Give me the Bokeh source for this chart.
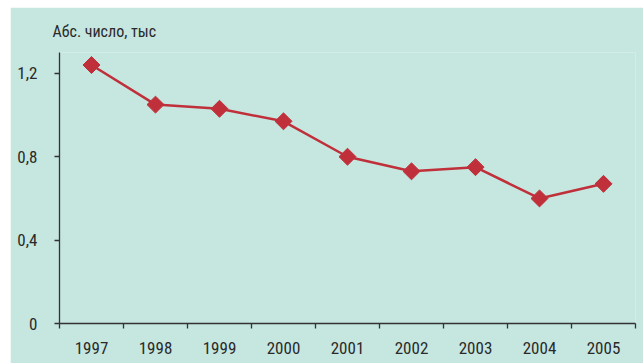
from bokeh.plotting import figure
from bokeh.models import FixedTicker, Range1d
from bokeh.embed import file_html
from bokeh.resources import INLINE
import numpy as np

# Absolute number, thousands, by year
years = ["1997", "1998", "1999", "2000", "2001", "2002", "2003", "2004", "2005"]
values = [1.24, 1.05, 1.03, 0.97, 0.80, 0.73, 0.75, 0.60, 0.67]
y_ticks = [0, 0.4, 0.8, 1.2]
y_tick_labels = ["0", "0,4", "0,8", "1,2"]
unit_caption = "Абс. число, тыс"

BG = "#C6E6E0"
RED = "#C0303A"
AXIS = "#333333"
TEXT = "#2a2a2a"
FONT = "'Roboto Condensed', 'DejaVu Sans Condensed', sans-serif"

x = np.arange(len(years)) + 0.5

p = figure(
    width=633, height=356,
    x_range=Range1d(0, len(years)), y_range=Range1d(0, 1.3),
    output_backend="svg", toolbar_location=None,
    background_fill_color=BG, border_fill_color=BG,
    min_border_left=49, min_border_right=8, min_border_top=45, min_border_bottom=40,
)
p.margin = (7, 0, 0, 10)
p.outline_line_color = None
p.grid.visible = False

# unit caption above the value axis
p.title.text = unit_caption
p.title.text_font = FONT
p.title.text_font_size = "16px"
p.title.text_font_style = "normal"
p.title.text_color = TEXT
p.title.align = "left"
p.title.offset = -7
p.title.standoff = 24

# x axis: labels centred in each year slot, ticks on slot boundaries
xa = p.xaxis[0]
xa.ticker = FixedTicker(ticks=list(x), minor_ticks=list(range(len(years) + 1)))
xa.major_label_overrides = {float(v): y for v, y in zip(x, years)}
xa.major_tick_line_color = None
xa.major_tick_out = 0
xa.major_tick_in = 0
xa.minor_tick_line_color = AXIS
xa.minor_tick_line_width = 1.3
xa.minor_tick_out = 5
xa.minor_tick_in = 0
xa.axis_line_color = AXIS
xa.axis_line_width = 1.3
xa.major_label_standoff = 13
xa.major_label_text_font = FONT
xa.major_label_text_font_size = "17px"
xa.major_label_text_color = TEXT

ya = p.yaxis[0]
ya.ticker = FixedTicker(ticks=y_ticks)
ya.major_label_overrides = {float(v): s for v, s in zip(y_ticks, y_tick_labels)}
ya.minor_tick_line_color = None
ya.major_tick_line_color = AXIS
ya.major_tick_line_width = 1.3
ya.major_tick_out = 5
ya.major_tick_in = 0
ya.axis_line_color = AXIS
ya.axis_line_width = 1.3
ya.major_label_standoff = 17
ya.major_label_text_font = FONT
ya.major_label_text_font_size = "17px"
ya.major_label_text_color = TEXT

p.line(x, values, line_color=RED, line_width=2.5)
p.scatter(x, values, marker="square", angle=np.pi / 4, size=12,
          fill_color=RED, line_color=RED)

open("out.html", "w").write(file_html(p, INLINE))
